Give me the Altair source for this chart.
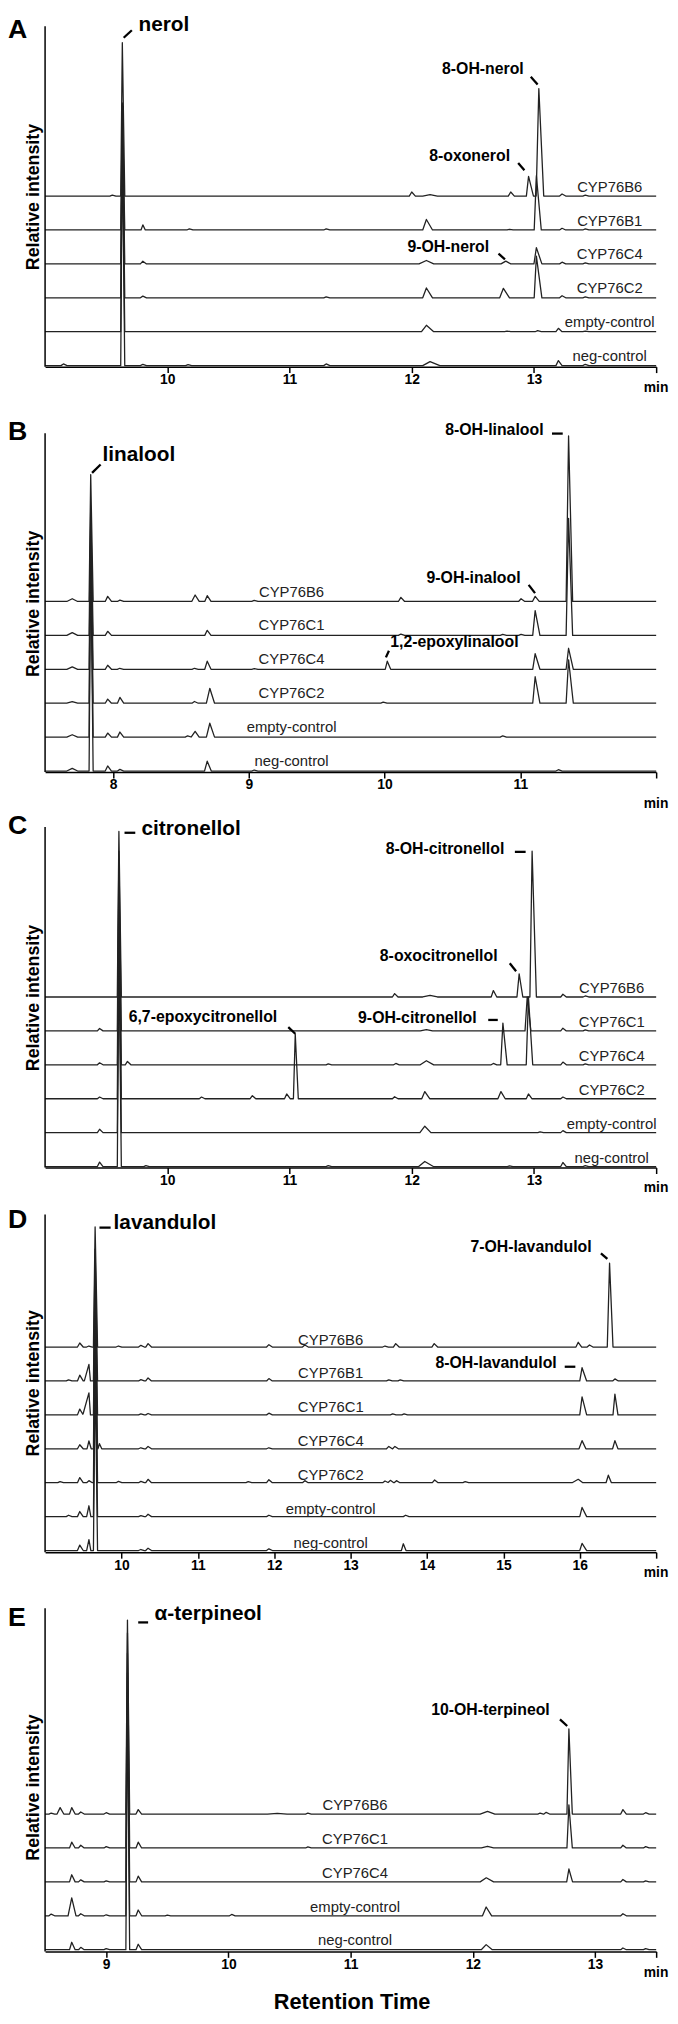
import altair as alt
import pandas as pd

FONT = "Liberation Sans, Arial, sans-serif"
U = 34.3            # px per intensity unit (trace spacing)
PLOT_W = 618
PLOT_H = 1954
YMAX = PLOT_H / U
BOTTOM_PAGE = 1962  # page y of the plot bottom (panel E axis)
LINE_COLOR = "#222222"

# ---------------- Panel A: nerol ----------------
A_TRACES = ["neg-control", "empty-control", "CYP76C2", "CYP76C4", "CYP76B1", "CYP76B6"]
A_PEAKS = {
    "CYP76B6": [(9.55, 0.03), (9.632, 4.52, 0.013, 0.02), (12.0, 0.12), (12.15, 0.04, 0.06, 0.06),
                (12.81, 0.12), (12.956, 0.58, 0.018, 0.04), (13.04, 3.17, 0.022, 0.04),
                (13.23, 0.06), (13.42, 0.03)],
    "CYP76B1": [(9.632, 3.75, 0.013, 0.02), (9.8, 0.15, 0.015, 0.02), (10.18, 0.03), (11.3, 0.03),
                (12.12, 0.31, 0.03, 0.05), (12.8, 0.02), (13.02, 1.6, 0.018, 0.04),
                (13.23, 0.05), (13.42, 0.03)],
    "CYP76C4": [(9.632, 4.57, 0.013, 0.02), (9.8, 0.08), (12.12, 0.1, 0.06, 0.06),
                (12.77, 0.08, 0.04, 0.04), (13.02, 0.48, 0.02, 0.045), (13.23, 0.05), (13.42, 0.03)],
    "CYP76C2": [(9.632, 5.27, 0.013, 0.02), (9.8, 0.05), (11.3, 0.03), (12.12, 0.29, 0.03, 0.05),
                (12.75, 0.28, 0.03, 0.05), (13.02, 1.23, 0.018, 0.045), (13.23, 0.06), (13.42, 0.03)],
    "empty-control": [(9.632, 5.98, 0.013, 0.02), (12.12, 0.19, 0.04, 0.06), (12.78, 0.02),
                      (13.03, 0.03), (13.2, 0.1), (13.42, 0.02)],
    "neg-control": [(9.15, 0.05), (9.632, 6.66, 0.013, 0.02), (9.8, 0.04), (10.17, 0.03), (11.3, 0.05),
                    (12.15, 0.12, 0.06, 0.08), (13.2, 0.15), (13.42, 0.04)],
}
A_COMPOUNDS = [("nerol", 9.765, 9.91, 21), ("8-OH-nerol", 12.248, 8.63, 16),
               ("8-oxonerol", 12.143, 6.05, 16), ("9-OH-nerol", 11.965, 3.38, 16)]
A_LEADERS = [(9.643, 9.697, 9.71, 9.92), (12.974, 8.551, 13.03, 8.318),
             (12.871, 6.006, 12.922, 5.79), (12.71, 3.332, 12.763, 3.166)]

# ---------------- Panel B: linalool ----------------
B_TRACES = ["neg-control", "empty-control", "CYP76C2", "CYP76C4", "CYP76C1", "CYP76B6"]
B_PEAKS = {
    "CYP76B6": [(7.70, 0.08, 0.04, 0.04), (7.836, 3.74, 0.012, 0.018), (7.961, 0.15), (8.051, 0.04),
                (8.605, 0.19, 0.025, 0.03), (8.694, 0.17), (9.04, 0.03), (10.12, 0.12),
                (11.005, 0.08), (11.109, 0.15, 0.02, 0.03), (11.355, 4.88, 0.018, 0.03)],
    "CYP76C1": [(7.70, 0.08, 0.04, 0.04), (7.836, 3.79, 0.012, 0.018), (7.961, 0.12), (8.694, 0.15),
                (10.12, 0.04), (10.87, 0.03), (11.005, 0.03), (11.109, 0.73, 0.018, 0.035),
                (11.355, 3.45, 0.018, 0.03)],
    "CYP76C4": [(7.70, 0.07, 0.04, 0.04), (7.836, 4.39, 0.012, 0.018), (7.961, 0.12), (8.05, 0.03),
                (8.6, 0.03), (8.694, 0.24), (9.04, 0.02), (10.02, 0.24, 0.015, 0.025),
                (11.109, 0.46, 0.018, 0.035), (11.355, 0.62, 0.018, 0.035)],
    "CYP76C2": [(7.70, 0.05, 0.04, 0.04), (7.836, 5.1, 0.012, 0.018), (7.961, 0.12), (8.051, 0.17),
                (8.6, 0.05), (8.713, 0.44, 0.025, 0.035), (9.99, 0.03),
                (11.109, 0.78, 0.018, 0.035), (11.355, 1.28, 0.018, 0.035)],
    "empty-control": [(7.70, 0.07, 0.04, 0.04), (7.836, 5.81, 0.012, 0.018), (7.961, 0.12),
                      (8.051, 0.15), (8.55, 0.04), (8.605, 0.17, 0.03, 0.03),
                      (8.713, 0.41, 0.025, 0.035), (10.87, 0.04)],
    "neg-control": [(7.70, 0.08, 0.04, 0.04), (7.836, 6.52, 0.012, 0.018), (7.961, 0.15),
                    (8.051, 0.05), (8.694, 0.29, 0.02, 0.03), (9.04, 0.03), (11.28, 0.04)],
}
B_COMPOUNDS = [("linalool", 7.923, 9.16, 21), ("8-OH-linalool", 10.446, 9.94, 16),
               ("9-OH-inalool", 10.309, 5.57, 16), ("1,2-epoxylinalool", 10.042, 3.68, 16)]
B_LEADERS = [(7.846, 8.822, 7.909, 9.067), (11.233, 9.98, 11.312, 9.98),
             (11.061, 5.519, 11.108, 5.277), (10.01, 3.382, 10.032, 3.574)]

# ---------------- Panel C: citronellol ----------------
C_TRACES = ["neg-control", "empty-control", "CYP76C2", "CYP76C4", "CYP76C1", "CYP76B6"]
C_PEAKS = {
    "CYP76B6": [(9.604, 4.88, 0.013, 0.02), (11.86, 0.1), (12.15, 0.05, 0.06, 0.06), (12.668, 0.19),
                (12.879, 0.68, 0.018, 0.03), (12.985, 4.30, 0.018, 0.035), (13.237, 0.08), (13.42, 0.03)],
    "CYP76C1": [(9.446, 0.07), (9.604, 5.3, 0.013, 0.02), (12.12, 0.04, 0.05, 0.05),
                (12.945, 1.0, 0.018, 0.03), (13.237, 0.08), (13.42, 0.03)],
    "CYP76C4": [(9.446, 0.06), (9.604, 5.7, 0.013, 0.02), (9.674, 0.1), (11.317, 0.03), (11.87, 0.04),
                (12.12, 0.12, 0.05, 0.06), (12.668, 0.04), (12.746, 1.23, 0.018, 0.035),
                (12.955, 2.0, 0.018, 0.035), (13.237, 0.08), (13.42, 0.03)],
    "CYP76C2": [(9.446, 0.05), (9.604, 6.14, 0.013, 0.02), (10.28, 0.05), (10.696, 0.09),
                (10.977, 0.14), (11.047, 1.91, 0.015, 0.025), (11.86, 0.06),
                (12.107, 0.21, 0.025, 0.04), (12.73, 0.21, 0.025, 0.035), (12.955, 0.14), (13.237, 0.05)],
    "empty-control": [(9.446, 0.1), (9.604, 6.27, 0.013, 0.02), (12.107, 0.19, 0.04, 0.05),
                      (13.05, 0.02), (13.237, 0.06)],
    "neg-control": [(9.446, 0.13), (9.604, 6.36, 0.013, 0.02), (9.825, 0.03), (11.317, 0.03),
                    (12.107, 0.15, 0.05, 0.07), (12.8, 0.02), (13.237, 0.12), (13.42, 0.03)],
}
C_COMPOUNDS = [("citronellol", 9.789, 9.80, 21), ("8-OH-citronellol", 11.787, 9.26, 16),
               ("8-oxocitronellol", 11.739, 6.10, 16), ("6,7-epoxycitronellol", 9.684, 4.29, 16),
               ("9-OH-citronellol", 11.561, 4.26, 16)]
C_LEADERS = [(9.65, 9.872, 9.738, 9.872), (12.844, 9.309, 12.932, 9.309),
             (12.802, 6.023, 12.854, 5.79), (10.99, 4.14, 11.047, 3.945),
             (12.626, 4.353, 12.704, 4.353)]

# ---------------- Panel D: lavandulol ----------------
D_TRACES = ["neg-control", "empty-control", "CYP76C2", "CYP76C4", "CYP76C1", "CYP76B1", "CYP76B6"]
D_PEAKS = {
    "CYP76B6": [(9.454, 0.12), (9.574, 0.03), (9.655, 3.54, 0.022, 0.032), (9.96, 0.03), (10.254, 0.05),
                (10.348, 0.1), (11.93, 0.07), (12.4, 0.06), (13.45, 0.03), (13.59, 0.1), (14.094, 0.1),
                (15.98, 0.14), (16.127, 0.06), (16.39, 2.47, 0.03, 0.045)],
    "CYP76B1": [(9.307, 0.03), (9.454, 0.17), (9.574, 0.49, 0.06, 0.02), (9.655, 3.89, 0.022, 0.032),
                (10.254, 0.04), (10.348, 0.09), (11.93, 0.07), (13.5, 0.03), (13.65, 0.03),
                (16.03, 0.39, 0.03, 0.06), (16.46, 0.06)],
    "CYP76C1": [(9.454, 0.17), (9.574, 0.65, 0.08, 0.02), (9.655, 4.32, 0.022, 0.032), (10.254, 0.03),
                (10.348, 0.04), (11.93, 0.05), (13.55, 0.03), (13.7, 0.03),
                (16.03, 0.53, 0.03, 0.06), (16.46, 0.61, 0.025, 0.04)],
    "CYP76C4": [(9.454, 0.12), (9.574, 0.23, 0.025, 0.03), (9.655, 4.76, 0.022, 0.032),
                (9.712, 0.15, 0.02, 0.03), (10.254, 0.03), (10.348, 0.07), (11.93, 0.03), (13.5, 0.07),
                (13.58, 0.07), (16.03, 0.24, 0.04, 0.05), (16.46, 0.24, 0.03, 0.04)],
    "CYP76C2": [(9.196, 0.03), (9.454, 0.15), (9.574, 0.06), (9.655, 5.23, 0.022, 0.032), (9.96, 0.04),
                (10.254, 0.04), (10.348, 0.1), (11.66, 0.03), (11.93, 0.09), (12.4, 0.06), (13.45, 0.05),
                (13.52, 0.07), (13.6, 0.06), (14.1, 0.08), (14.5, 0.03), (15.98, 0.1, 0.08, 0.06),
                (16.374, 0.22, 0.03, 0.04)],
    "empty-control": [(9.307, 0.04), (9.454, 0.15), (9.574, 0.32, 0.03, 0.025),
                      (9.655, 5.28, 0.022, 0.032), (10.254, 0.03), (10.348, 0.07), (11.93, 0.04),
                      (13.72, 0.04), (16.03, 0.27, 0.03, 0.06)],
    "neg-control": [(9.454, 0.16), (9.574, 0.32, 0.03, 0.025), (9.655, 5.44, 0.022, 0.032),
                    (10.254, 0.03), (10.348, 0.07), (11.93, 0.05), (13.69, 0.2, 0.025, 0.035),
                    (16.03, 0.21, 0.03, 0.06)],
}
D_COMPOUNDS = [("lavandulol", 9.897, 9.52, 21), ("7-OH-lavandulol", 14.568, 8.84, 16),
               ("8-OH-lavandulol", 14.111, 5.44, 16)]
D_LEADERS = [(9.712, 9.571, 9.858, 9.571), (16.277, 8.813, 16.361, 8.647),
             (15.803, 5.469, 15.942, 5.469)]

# ---------------- Panel E: alpha-terpineol ----------------
E_TRACES = ["neg-control", "empty-control", "CYP76C4", "CYP76C1", "CYP76B6"]
E_PEAKS = {
    "CYP76B6": [(8.55, 0.03), (8.623, 0.19, 0.025, 0.03), (8.718, 0.19), (8.792, 0.06), (9.0, 0.04),
                (9.174, 5.72, 0.013, 0.018), (9.262, 0.13), (10.4, 0.02, 0.08, 0.08), (10.65, 0.03),
                (12.12, 0.08, 0.06, 0.06), (12.55, 0.03), (12.6, 0.05), (12.786, 2.51, 0.016, 0.028),
                (13.228, 0.13), (13.414, 0.04)],
    "CYP76C1": [(8.718, 0.17), (8.792, 0.08), (9.0, 0.04), (9.174, 6.34, 0.013, 0.018), (9.262, 0.17),
                (10.65, 0.03), (12.12, 0.05, 0.05, 0.05), (12.786, 1.27, 0.016, 0.028),
                (13.228, 0.08), (13.414, 0.04)],
    "CYP76C4": [(8.718, 0.21), (8.792, 0.06), (9.0, 0.03), (9.174, 6.74, 0.013, 0.018), (9.262, 0.17),
                (12.11, 0.12, 0.05, 0.06), (12.786, 0.38, 0.018, 0.03), (13.228, 0.07), (13.414, 0.03)],
    "empty-control": [(8.55, 0.05), (8.718, 0.53, 0.03, 0.035), (8.792, 0.06), (9.0, 0.03),
                      (9.174, 7.16, 0.013, 0.018), (9.262, 0.17), (9.5, 0.02), (10.027, 0.04),
                      (12.109, 0.26, 0.03, 0.045), (13.228, 0.06)],
    "neg-control": [(8.718, 0.22), (8.792, 0.07), (9.0, 0.03), (9.174, 7.58, 0.013, 0.018),
                    (9.262, 0.16), (12.109, 0.15, 0.04, 0.05), (13.228, 0.05), (13.414, 0.03)],
}
E_COMPOUNDS = [("α-terpineol", 9.396, 9.77, 21), ("10-OH-terpineol", 11.659, 6.97, 16)]
E_LEADERS = [(9.262, 9.70, 9.343, 9.70), (12.713, 6.843, 12.772, 6.647)]

PANELS = [
    dict(letter="A", traces=A_TRACES, peaks=A_PEAKS, compounds=A_COMPOUNDS, leaders=A_LEADERS,
         domain=(9, 14), ticks=[10, 11, 12, 13, 14], hide=14, axis_page=359.3, b0=0.03,
         w=(0.02, 0.03), label_t=13.62, label_dy=-4.5, letter_v=9.70, title_v=5.0, top_v=10.04,
         min_y=25.5),
    dict(letter="B", traces=B_TRACES, peaks=B_PEAKS, compounds=B_COMPOUNDS, leaders=B_LEADERS,
         domain=(7.5, 12), ticks=[8, 9, 10, 11, 12], hide=12, axis_page=769.3, b0=0.03,
         w=(0.018, 0.028), label_t=9.315, label_dy=-5, letter_v=9.80, title_v=4.96, top_v=9.99,
         min_y=35.5),
    dict(letter="C", traces=C_TRACES, peaks=C_PEAKS, compounds=C_COMPOUNDS, leaders=C_LEADERS,
         domain=(9, 14), ticks=[10, 11, 12, 13, 14], hide=14, axis_page=1169.3, b0=0.03,
         w=(0.018, 0.028), label_t=13.636, label_dy=-4, letter_v=9.83, title_v=5.0, top_v=10.04,
         min_y=24.5),
    dict(letter="D", traces=D_TRACES, peaks=D_PEAKS, compounds=D_COMPOUNDS, leaders=D_LEADERS,
         domain=(9, 17), ticks=[10, 11, 12, 13, 14, 15, 16, 17], hide=17, axis_page=1558.3, b0=0.05,
         w=(0.03, 0.045), label_t=12.739, label_dy=-2.5, letter_v=9.57, title_v=4.98, top_v=9.96,
         min_y=25),
    dict(letter="E", traces=E_TRACES, peaks=E_PEAKS, compounds=E_COMPOUNDS, leaders=E_LEADERS,
         domain=(8.5, 13.5), ticks=[9, 10, 11, 12, 13, 13.5], hide=13.5, axis_page=1962, b0=0.05,
         w=(0.018, 0.028), label_t=11.036, label_dy=-4.3, letter_v=9.59, title_v=4.83, top_v=10.12,
         min_y=25),
]

YSCALE = alt.Scale(domain=[0, YMAX], nice=False, zero=False)


def build_trace(peaks, lo, hi, wl0, wr0):
    pk = [(p[0], p[1], p[2] if len(p) > 2 else wl0, p[3] if len(p) > 3 else wr0) for p in peaks]
    xs = {lo, hi}
    for t, h, wl, wr in pk:
        xs.update([t - wl, t, t + wr])
    xs = sorted(x for x in xs if lo <= x <= hi)
    out = []
    for x in xs:
        v = 0.0
        for t, h, wl, wr in pk:
            if t - wl <= x <= t:
                v += h * (x - (t - wl)) / wl
            elif t < x <= t + wr:
                v += h * ((t + wr) - x) / wr
        out.append((x, v))
    return out


def make_panel(cfg, extra=None):
    lo, hi = cfg["domain"]
    base = (BOTTOM_PAGE - cfg["axis_page"]) / U
    offset = cfg["axis_page"] - BOTTOM_PAGE
    xscale = alt.Scale(domain=[lo, hi], nice=False, zero=False)
    hide = cfg["hide"]
    axis = alt.Axis(
        orient="bottom", offset=offset, values=cfg["ticks"], format="d",
        labelExpr=f"datum.value == {hide} ? '' : datum.label",
        grid=False, tickSize=6, tickWidth=1.5, tickColor="black",
        domainColor="black", domainWidth=1.5,
        labelFont=FONT, labelFontSize=14, labelFontWeight="bold", labelColor="black",
        labelPadding=0, labelFlush=False, labelOverlap=False,
        title="min", titleFont=FONT, titleFontSize=14, titleFontWeight="bold", titleColor="black",
        titleX=605, titleY=cfg["min_y"], titleAlign="left", titleBaseline="alphabetic",
    )
    X = lambda f: alt.X(f, scale=xscale, axis=axis)
    Y = lambda f: alt.Y(f, scale=YSCALE, axis=None)

    rows, labs = [], []
    wl0, wr0 = cfg["w"]
    for i, name in enumerate(cfg["traces"]):
        b = base + cfg["b0"] + i
        for x, v in build_trace(cfg["peaks"][name], lo, hi, wl0, wr0):
            rows.append({"t": x, "v": b + v, "trace": name})
        labs.append({"t": cfg["label_t"], "v": b, "s": name})

    lines = alt.Chart(pd.DataFrame(rows)).mark_line(
        color=LINE_COLOR, strokeWidth=1.3, strokeJoin="round"
    ).encode(x=X("t:Q"), y=Y("v:Q"), detail="trace:N")

    trace_labels = alt.Chart(pd.DataFrame(labs)).mark_text(
        font=FONT, fontSize=15, color=LINE_COLOR, align="center", baseline="alphabetic",
        dy=cfg["label_dy"]
    ).encode(x=X("t:Q"), y=Y("v:Q"), text="s:N")

    comp = pd.DataFrame([{"s": s, "t": t, "v": base + v, "fs": fs} for s, t, v, fs in cfg["compounds"]])
    compounds = alt.Chart(comp).mark_text(
        font=FONT, fontWeight="bold", color="black", align="left", baseline="alphabetic"
    ).encode(x=X("t:Q"), y=Y("v:Q"), text="s:N", size=alt.Size("fs:Q", scale=None))

    lead = pd.DataFrame([{"t": a, "v": base + b, "t2": c, "v2": base + d}
                         for a, b, c, d in cfg["leaders"]])
    leaders = alt.Chart(lead).mark_rule(color="black", strokeWidth=2.3).encode(
        x=X("t:Q"), x2="t2:Q", y=Y("v:Q"), y2="v2:Q")

    yax = pd.DataFrame([{"v": base, "v2": base + cfg["top_v"]}])
    yaxis_line = alt.Chart(yax).mark_rule(color="black", strokeWidth=1.5).encode(
        x=alt.value(0), y=Y("v:Q"), y2="v2:Q")

    let = pd.DataFrame([{"v": base + cfg["letter_v"], "s": cfg["letter"]}])
    letter = alt.Chart(let).mark_text(
        font=FONT, fontSize=27, fontWeight="bold", color="black", align="left", baseline="alphabetic"
    ).encode(x=alt.value(-37.5), y=Y("v:Q"), text="s:N")

    ttl = pd.DataFrame([{"v": base + cfg["title_v"], "s": "Relative intensity"}])
    ytitle = alt.Chart(ttl).mark_text(
        font=FONT, fontSize=18, fontWeight="bold", color="black", angle=270,
        align="center", baseline="alphabetic"
    ).encode(x=alt.value(-6.5), y=Y("v:Q"), text="s:N")

    layers = [lines, trace_labels, compounds, leaders, yaxis_line, letter, ytitle]
    if extra is not None:
        layers.append(extra)
    return alt.layer(*layers)


rt = pd.DataFrame([{"v": -58 / U, "s": "Retention Time"}])
retention = alt.Chart(rt).mark_text(
    font=FONT, fontSize=22, fontWeight="bold", color="black", align="center", baseline="alphabetic"
).encode(x=alt.value(310.5), y=alt.Y("v:Q", scale=YSCALE, axis=None), text="s:N")

panels = [make_panel(c, retention if c["letter"] == "E" else None) for c in PANELS]

chart = alt.layer(*panels).resolve_scale(x="independent").resolve_axis(x="independent").properties(
    width=PLOT_W, height=PLOT_H,
    autosize=alt.AutoSizeParams(type="none"),
    padding={"left": 37.5, "top": 0, "right": 14, "bottom": 62},
).configure_view(stroke=None)

chart.save("out.html", embed_options={"renderer": "svg", "actions": False})
